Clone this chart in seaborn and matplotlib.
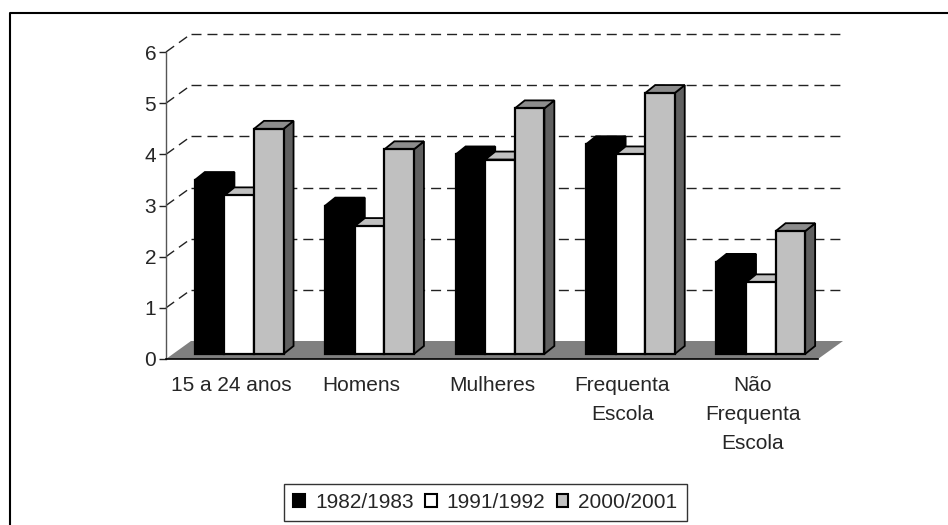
import matplotlib
matplotlib.use('Agg')
import matplotlib.pyplot as plt
import matplotlib.transforms as mtrans
from matplotlib.patches import Polygon, Rectangle
import seaborn as sb
import pandas as pd

categories = ['15 a 24 anos', 'Homens', 'Mulheres', 'Frequenta\nEscola', 'Não\nFrequenta\nEscola']
v_1982 = [3.4, 2.9, 3.9, 4.1, 1.8]
v_1991 = [3.1, 2.5, 3.8, 3.9, 1.4]
v_2000 = [4.4, 4.0, 4.8, 5.1, 2.4]
periods = ['1982/1983', '1991/1992', '2000/2001']
colors = ['#000000', '#ffffff', '#c0c0c0']
y_ticks = [0, 1, 2, 3, 4, 5, 6]

W, H = 948, 525
sb.set_style('white')
plt.rcParams['font.family'] = ['Liberation Sans', 'DejaVu Sans']

df = pd.DataFrame({'cat': categories * 3,
                   'val': v_1982 + v_1991 + v_2000,
                   'period': sum([[p] * len(categories) for p in periods], [])})

fig = plt.figure(figsize=(W / 100, H / 100), dpi=100)
ax = fig.add_axes([166 / W, (H - 359) / H, 652 / W, 307 / H])
sb.barplot(data=df, x='cat', y='val', hue='period', palette=colors, saturation=1,
           width=0.68, gap=0, edgecolor='black', linewidth=1.6, ax=ax, zorder=5)
ax.set_xlim(-0.5, 4.5)
ax.set_ylim(0, 6)
ax.set_xlabel('')
ax.set_ylabel('')


def shifted(dx, dy):
    # desvio em pixels sobre as coordenadas de dados
    return ax.transData + mtrans.ScaledTranslation(dx / 100, dy / 100, fig.dpi_scale_trans)


# parede / chao em perspectiva
depth_x, depth_y = 25, 18
x0, x1 = ax.get_xlim()
base = ax.transData
back = shifted(depth_x, depth_y)
floor_pts = [base.transform((x0, 0)), base.transform((x1, 0)),
             back.transform((x1, 0)), back.transform((x0, 0))]
ax.add_patch(Polygon(floor_pts, closed=True, transform=None, facecolor='#808080',
                     edgecolor='none', zorder=1, clip_on=False))
for t in y_ticks[1:]:
    ax.plot([x0, x1], [t, t], transform=back, color='#222222', lw=1,
            dashes=(7.2, 4.3), zorder=2, clip_on=False)
    p0 = base.transform((x0, t))
    p1 = back.transform((x0, t))
    ax.plot([p0[0], p1[0]], [p0[1], p1[1]], transform=None, color='#222222', lw=1,
            dashes=(7.2, 4.3), zorder=2, clip_on=False)

# barras 3D: frente deslocada, lados e topos
bar_dx, bar_dy = 8, 5
side_dx, side_dy = 10, 8
front = shifted(bar_dx, bar_dy)
bars = [b for c in ax.containers for b in c]
order = sorted(bars, key=lambda b: b.get_x())
for n, b in enumerate(order):
    b.set_transform(front)
    b.set_zorder(5 + n * 0.1)
    b.set_clip_on(False)
    xa, xb, h = b.get_x(), b.get_x() + b.get_width(), b.get_height()
    bl, br = front.transform((xa, 0)), front.transform((xb, 0))
    tl, tr = front.transform((xa, h)), front.transform((xb, h))
    black = b.get_facecolor()[0] == 0
    top_c = '#000000' if black else '#c0c0c0' if b.get_facecolor()[0] == 1 else '#8c8c8c'
    side_c = '#000000' if black else '#606060'
    top = [tl, tr, tr + (side_dx, side_dy), tl + (side_dx, side_dy)]
    side = [br, tr, tr + (side_dx, side_dy), br + (side_dx, side_dy)]
    for pts, c in ((side, side_c), (top, top_c)):
        ax.add_patch(Polygon(pts, closed=True, transform=None, facecolor=c,
                             edgecolor='black', lw=1.3, zorder=5 + n * 0.1 - 0.05,
                             clip_on=False))

# eixos
for s in ('top', 'right'):
    ax.spines[s].set_visible(False)
ax.spines['left'].set_color('#555555')
ax.spines['left'].set_linewidth(1)
ax.spines['bottom'].set_color('black')
ax.spines['bottom'].set_linewidth(1.2)
ax.set_yticks(y_ticks)
ax.set_xticks([-0.5, 0.5, 1.5, 2.5, 3.5, 4.5], minor=True)
ax.tick_params(axis='x', which='major', length=0, pad=12, labelsize=15)
for lab in ax.get_xticklabels():
    lab.set_linespacing(1.68)
    lab.set_va('top')
ax.tick_params(axis='x', which='minor', length=5, width=1, color='#444444')
ax.tick_params(axis='y', length=5, width=1, color='#222222', left=True, labelsize=15, pad=2)

# legenda
ax.get_legend().remove()
handles = [Rectangle((0, 0), 1, 1, facecolor=c, edgecolor='black', lw=1.5) for c in colors]
leg = fig.legend(handles, periods, loc='center',
                 bbox_to_anchor=(485.5 / W, (H - 502.5) / H),
                 ncol=3, fontsize=15, frameon=True, fancybox=False,
                 edgecolor='#333333', framealpha=1, handlelength=0.57, handleheight=0.57,
                 handletextpad=0.48, columnspacing=0.53, borderaxespad=0, borderpad=0.45)
leg.get_frame().set_linewidth(1)

# moldura exterior (sem lado direito nem inferior)
fig.add_artist(plt.Line2D([10 / W, 10 / W, 1], [0, (H - 13) / H, (H - 13) / H],
                          color='black', lw=1.5))

fig.savefig('out.png', dpi=100)
